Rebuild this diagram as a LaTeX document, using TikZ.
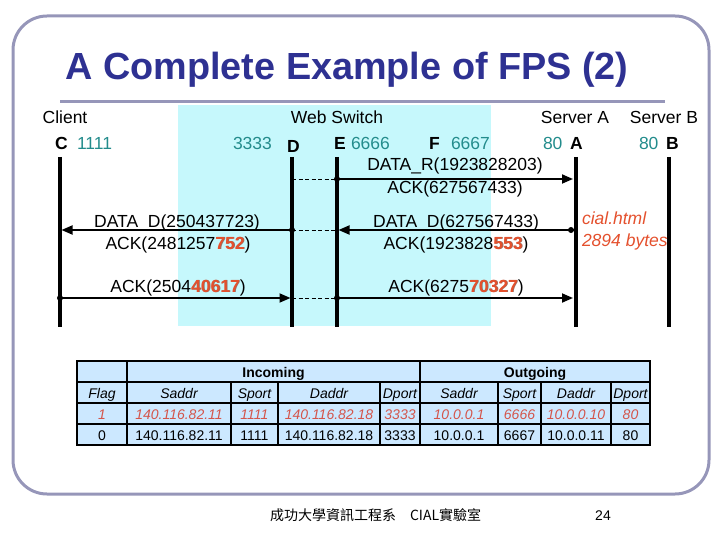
\documentclass[tikz,border=0pt]{standalone}
\usepackage{fontspec}
\setmainfont{Liberation Sans}
\newfontfamily\cjkfont{Noto Sans CJK TC}
\usetikzlibrary{arrows.meta}
\definecolor{framegray}{RGB}{150,150,185}
\definecolor{titleblue}{RGB}{46,49,146}
\definecolor{tealc}{RGB}{35,140,140}
\definecolor{cyanbg}{RGB}{198,248,252}
\definecolor{redhi}{RGB}{228,80,45}
\definecolor{shadowc}{RGB}{150,110,100}
\definecolor{tblue}{RGB}{204,232,255}
\definecolor{rowred}{RGB}{212,85,75}
\newcommand{\hlnum}[1]{\rlap{\kern0.8pt\raisebox{-0.8pt}{\textcolor{shadowc}{\textbf{#1}}}}\textcolor{redhi}{\textbf{#1}}}
\begin{document}
\begin{tikzpicture}[x=1pt,y=-1pt,
  every node/.style={inner sep=0pt, outer sep=0pt},
  lbl/.style={font=\fontsize{17.5}{20}\selectfont, anchor=base},
  port/.style={font=\fontsize{17.5}{20}\selectfont, text=tealc, anchor=base west},
  host/.style={font=\fontsize{17.5}{20}\selectfont\bfseries, anchor=base west},
  life/.style={line width=3.6pt},
  msg/.style={line width=1.8pt, -{Triangle[length=11pt,width=9pt]}},
  fwd/.style={line width=0.9pt, dash pattern=on 4pt off 2.5pt},
  tbl/.style={font=\fontsize{14}{16}\selectfont, anchor=base},
  tblhead/.style={tbl, font=\fontsize{14}{16}\selectfont\bfseries},
  tblit/.style={tbl, font=\fontsize{14}{16}\selectfont\itshape},
  tblred/.style={tbl, font=\fontsize{14}{16}\selectfont\itshape, text=rowred},
  note/.style={font=\fontsize{17.5}{20}\selectfont\itshape, text=redhi, anchor=base west},
]
\useasboundingbox (0,0) rectangle (720,540);
% frame and title
\draw[framegray, line width=3pt, rounded corners=34pt] (13,16) rectangle (709,494);
\draw[framegray, line width=3pt] (60,102) -- (665,102);
\node[font=\fontsize{37.8}{40}\selectfont\bfseries, text=titleblue, anchor=base] (title) at (347,80) {A Complete Example of FPS (2)};
% switch area
\fill[cyanbg] (178,105) rectangle (491,326);
% column headings
\node[lbl] (hclient) at (65,124) {Client};
\node[lbl] (hswitch) at (337,124) {Web Switch};
\node[lbl] (hsa) at (575,124) {Server A};
\node[lbl] (hsb) at (664,124) {Server B};
% end-point labels
\node[host] (lC) at (55,150) {C};
\node[port] (pC) at (77,150) {1111};
\node[port] (pD) at (233,150) {3333};
\node[host] (lD) at (287,153) {D};
\node[host] (lE) at (334,150) {E};
\node[port] (pE) at (351,150) {6666};
\node[host] (lF) at (429,150) {F};
\node[port] (pF) at (451,150) {6667};
\node[port] (pA) at (543,150) {80};
\node[host] (lA) at (570,150) {A};
\node[port] (pB) at (639,150) {80};
\node[host] (lB) at (666,150) {B};
% lifelines
\foreach \n/\x in {C/60,D/292,E/337,A/576,B/669}{
  \coordinate (\n t) at (\x,157);
  \coordinate (\n b) at (\x,327);
  \coordinate (\n 1) at (\x,179);
  \coordinate (\n 2) at (\x,230);
  \coordinate (\n 3) at (\x,298);
}
\foreach \n in {C,D,E,A,B}{\draw[life] (\n t) -- (\n b);}
% message 1
\draw[fwd] (D1) -- (E1);
\draw[msg, shorten >=3pt] (E1) -- (A1);
\fill (E1) circle (3pt);
\node[lbl] (m1a) at (455,171) {DATA\_R(1923828203)};
\node[lbl] (m1b) at (455,194) {ACK(627567433)};
% message 2
\draw[msg, shorten >=1.5pt] (D2) -- (C2);
\fill (D2) circle (3pt);
\draw[fwd] (D2) -- (E2);
\draw[msg, shorten >=1.5pt] (A2) -- (E2);
\fill ([xshift=-5pt]A2) circle (3pt);
\node[lbl] (m2a) at (177,227) {DATA\_D(250437723)};
\node[lbl] (m2b) at (178,249) {ACK(2481257\hlnum{752})};
\node[lbl] (m2c) at (456,227) {DATA\_D(627567433)};
\node[lbl] (m2d) at (456,249) {ACK(1923828\hlnum{553})};
\node[note] (n1) at (582,225) {cial.html};
\node[note] (n2) at (582,247) {2894 bytes};
% message 3
\draw[msg, shorten >=1.5pt] (C3) -- (D3);
\fill (C3) circle (3pt);
\draw[fwd] (D3) -- (E3);
\draw[msg, shorten >=3pt] (E3) -- (A3);
\fill (E3) circle (3pt);
\node[lbl] (m3a) at (178,292) {ACK(2504\hlnum{40617})};
\node[lbl] (m3b) at (456,292) {ACK(6275\hlnum{70327})};
% table
\fill[tblue] (77,361) rectangle (650,445);
\begin{scope}[line width=1.5pt]
  \foreach \yy in {382,403,424}{\draw (77,\yy) -- (650,\yy);}
  \foreach \xx in {127,420}{\draw (\xx,361) -- (\xx,445);}
  \foreach \xx in {231,278,380,498,541,611}{\draw (\xx,382) -- (\xx,445);}
\end{scope}
\draw[line width=2.5pt] (77,361) rectangle (650,445);
\node[tblhead] (tin) at (273.5,377) {Incoming};
\node[tblhead] (tout) at (535,377) {Outgoing};
\foreach \cx/\t [count=\i] in {102/Flag,179/Saddr,254.5/Sport,329/Daddr,400/Dport,459/Saddr,519.5/Sport,576/Daddr,630.5/Dport}{
  \node[tblit] (th\i) at (\cx,398) {\t};}
\foreach \cx/\t [count=\i] in {102/1,179/140.116.82.11,254.5/1111,329/140.116.82.18,400/3333,459/10.0.0.1,519.5/6666,576/10.0.0.10,630.5/80}{
  \node[tblred] (tr\i) at (\cx,419) {\t};}
\foreach \cx/\t [count=\i] in {102/0,179/140.116.82.11,254.5/1111,329/140.116.82.18,400/3333,459/10.0.0.1,519.5/6667,576/10.0.0.11,630.5/80}{
  \node[tbl] (ts\i) at (\cx,440) {\t};}
% footer
\node[font=\fontsize{14}{16}\selectfont\cjkfont, anchor=base west] (foot) at (270,520) {成功大學資訊工程系　CIAL實驗室};
\node[font=\fontsize{14}{16}\selectfont, anchor=base] (pg) at (603,520) {24};
\end{tikzpicture}
\end{document}
